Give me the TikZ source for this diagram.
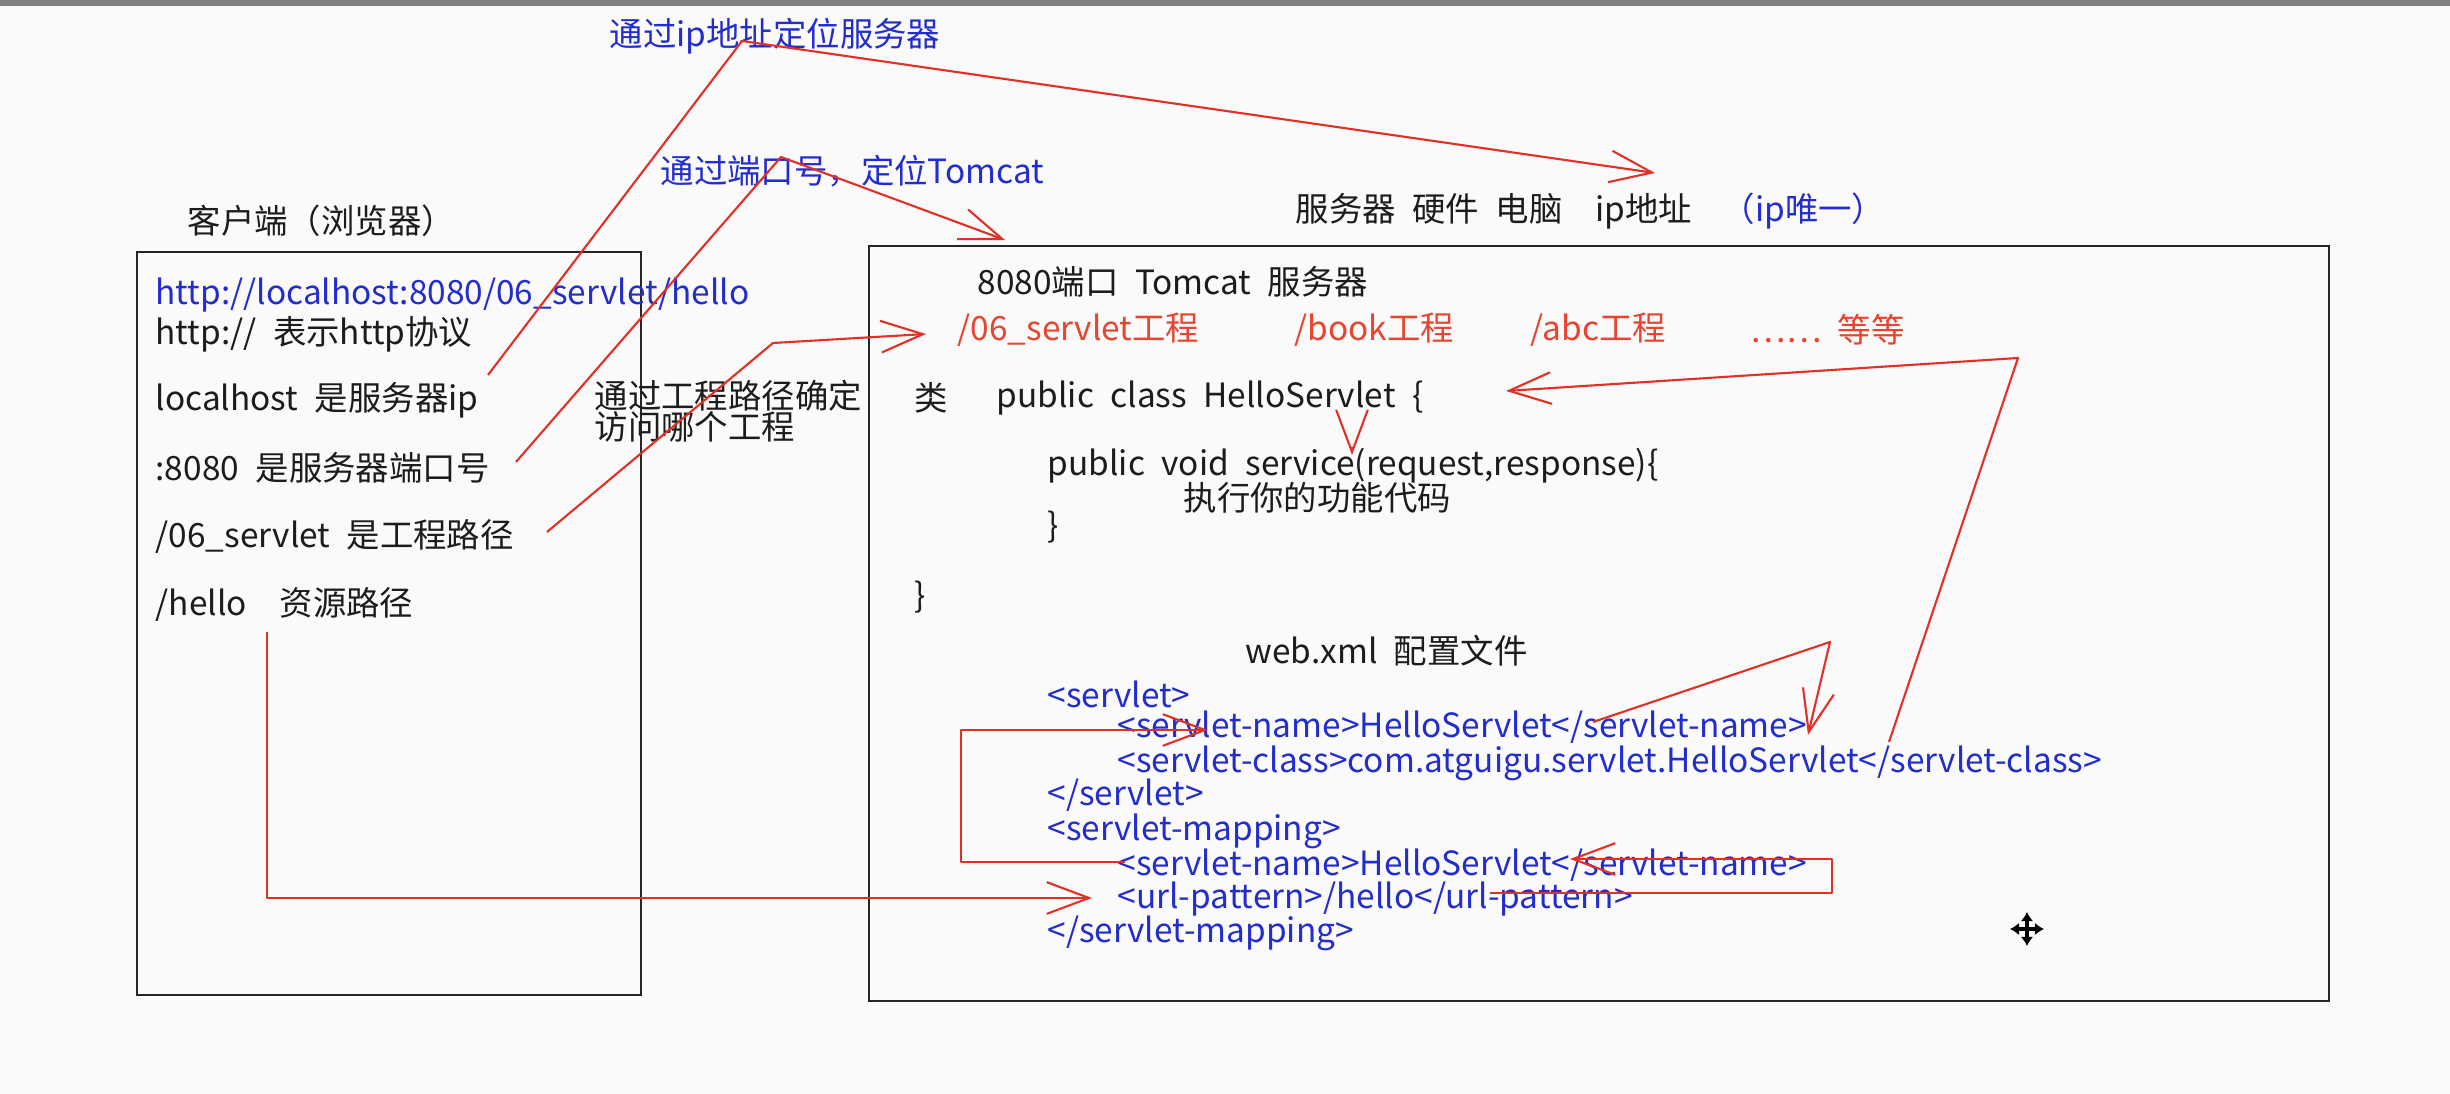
\documentclass[tikz,border=0pt]{standalone}
\usepackage{fontspec}
\setmainfont{Noto Sans CJK SC}[WordSpace=2.2]
\usetikzlibrary{arrows.meta}
\definecolor{noteblue}{RGB}{35,45,205}
\definecolor{notered}{RGB}{232,68,48}
\definecolor{linered}{RGB}{226,48,38}
\definecolor{inkgray}{RGB}{28,28,28}
\begin{document}
\begin{tikzpicture}[x=0.01cm, y=-0.01cm, font=\fontsize{9.5pt}{11pt}\selectfont,
  txt/.style={anchor=west, inner sep=0pt, text=inkgray},
  blue txt/.style={txt, text=noteblue},
  red txt/.style={txt, text=notered},
  box/.style={draw=black!85, line width=0.8pt},
  red arrow/.style={draw=linered, line width=0.6pt, line join=round,
    -{Straight Barb[length=12pt,width=9pt,line width=0.6pt]}},
  move arrow/.style={line width=1.1pt, {Latex[length=2.6pt,width=3.6pt]}-{Latex[length=2.6pt,width=3.6pt]}}]
\useasboundingbox (0,0) rectangle (2450,1094);
\fill[white!98!black] (0,0) rectangle (2450,1094);
\fill[black!50] (0,0) rectangle (2450,6);

% notes above the boxes
\node [blue txt] (ipnote) at (609,36) {通过ip地址定位服务器};
\node [blue txt] (portnote) at (660,171) {通过端口号，定位Tomcat};
\node [txt] (client) at (187,221) {客户端（浏览器）};
\node [txt] (server) at (1295,211) {服务器 硬件 电脑\ \ ip地址};
\node [blue txt] (unique) at (1721,211) {（ip唯一）};

% client box
\draw [box] (137,252) rectangle (641,995);
\node [blue txt] (url) at (155,295) {http://localhost:8080/06\_servlet/hello};
\node [txt] (proto) at (155,334) {http:// 表示http协议};
\node [txt] (host) at (155,400) {localhost 是服务器ip};
\node [txt] (port) at (155,468) {:8080 是服务器端口号};
\node [txt] (proj) at (155,536) {/06\_servlet 是工程路径};
\node [txt] (res) at (155,604) {/hello\ \ 资源路径};

\node [txt] (projnote1) at (594,396) {通过工程路径确定};
\node [txt] (projnote2) at (594,427) {访问哪个工程};

% server box
\draw [box] (869,246) rectangle (2329,1001);
\node [txt] (tomcat) at (977,282) {8080端口 Tomcat 服务器};
\node [red txt] (p1) at (957,330) {/06\_servlet工程};
\node [red txt] (p2) at (1294,330) {/book工程};
\node [red txt] (p3) at (1530,330) {/abc工程};
\node [red txt] (p4) at (1750,330) {…… 等等};
\node [txt] (lei) at (914,398) {类};
\node [txt] (cls) at (996,398) {public class HelloServlet \{};
\node [txt] (svc) at (1047,466) {public void service(request,response)\{};
\node [txt] (run) at (1183,498) {执行你的功能代码};
\node [txt] (svcend) at (1047,527) {\}};
\node [txt] (clsend) at (914,597) {\}};
\node [txt] (webxml) at (1245,651) {web.xml 配置文件};
\node [blue txt] (x1) at (1047,694) {<servlet>};
\node [blue txt] (x2) at (1117,727) {<servlet-name>HelloServlet</servlet-name>};
\node [blue txt] (x3) at (1117,763) {<servlet-class>com.atguigu.servlet.HelloServlet</servlet-class>};
\node [blue txt] (x4) at (1047,795) {</servlet>};
\node [blue txt] (x5) at (1047,831) {<servlet-mapping>};
\node [blue txt] (x6) at (1117,865) {<servlet-name>HelloServlet</servlet-name>};
\node [blue txt] (x7) at (1117,899) {<url-pattern>/hello</url-pattern>};
\node [blue txt] (x8) at (1047,933) {</servlet-mapping>};

% bends and ends of the red arrows
\coordinate (ipA) at (488,375);   \coordinate (ipB) at (742,41);   \coordinate (ipC) at (1655,173);
\coordinate (portA) at (516,462); \coordinate (portB) at (781,157); \coordinate (portC) at (1005,240);
\coordinate (projA) at (547,532); \coordinate (projB) at (773,343); \coordinate (projC) at (926,334);
\coordinate (clsA) at (1889,742); \coordinate (clsB) at (2018,358); \coordinate (clsC) at (1506,391);
\coordinate (svcA) at (1352,447); \coordinate (svcB) at (1352,455);
\coordinate (nameA) at (1593,722); \coordinate (nameB) at (1830,642); \coordinate (nameC) at (1808,735);
\coordinate (mapA) at (1125,862); \coordinate (mapB) at (961,862); \coordinate (mapC) at (961,730); \coordinate (mapD) at (1208,730);
\coordinate (urlA) at (1490,893); \coordinate (urlB) at (1832,893); \coordinate (urlC) at (1832,859); \coordinate (urlD) at (1570,859);
\coordinate (resA) at (267,632); \coordinate (resB) at (267,898); \coordinate (resC) at (1092,898);

\draw [red arrow] (ipA) -- (ipB) -- (ipC);
\draw [red arrow] (portA) -- (portB) -- (portC);
\draw [red arrow] (projA) -- (projB) -- (projC);
\draw [red arrow] (clsA) -- (clsB) -- (clsC);
\draw [red arrow] (svcA) -- (svcB);
\draw [red arrow] (nameA) -- (nameB) -- (nameC);
\draw [red arrow] (mapA) -- (mapB) -- (mapC) -- (mapD);
\draw [red arrow] (urlA) -- (urlB) -- (urlC) -- (urlD);
\draw [red arrow] (resA) -- (resB) -- (resC);

% mouse pointer
\draw [move arrow] (2010,929) -- (2044,929);
\draw [move arrow] (2027,912) -- (2027,946);
\end{tikzpicture}
\end{document}
